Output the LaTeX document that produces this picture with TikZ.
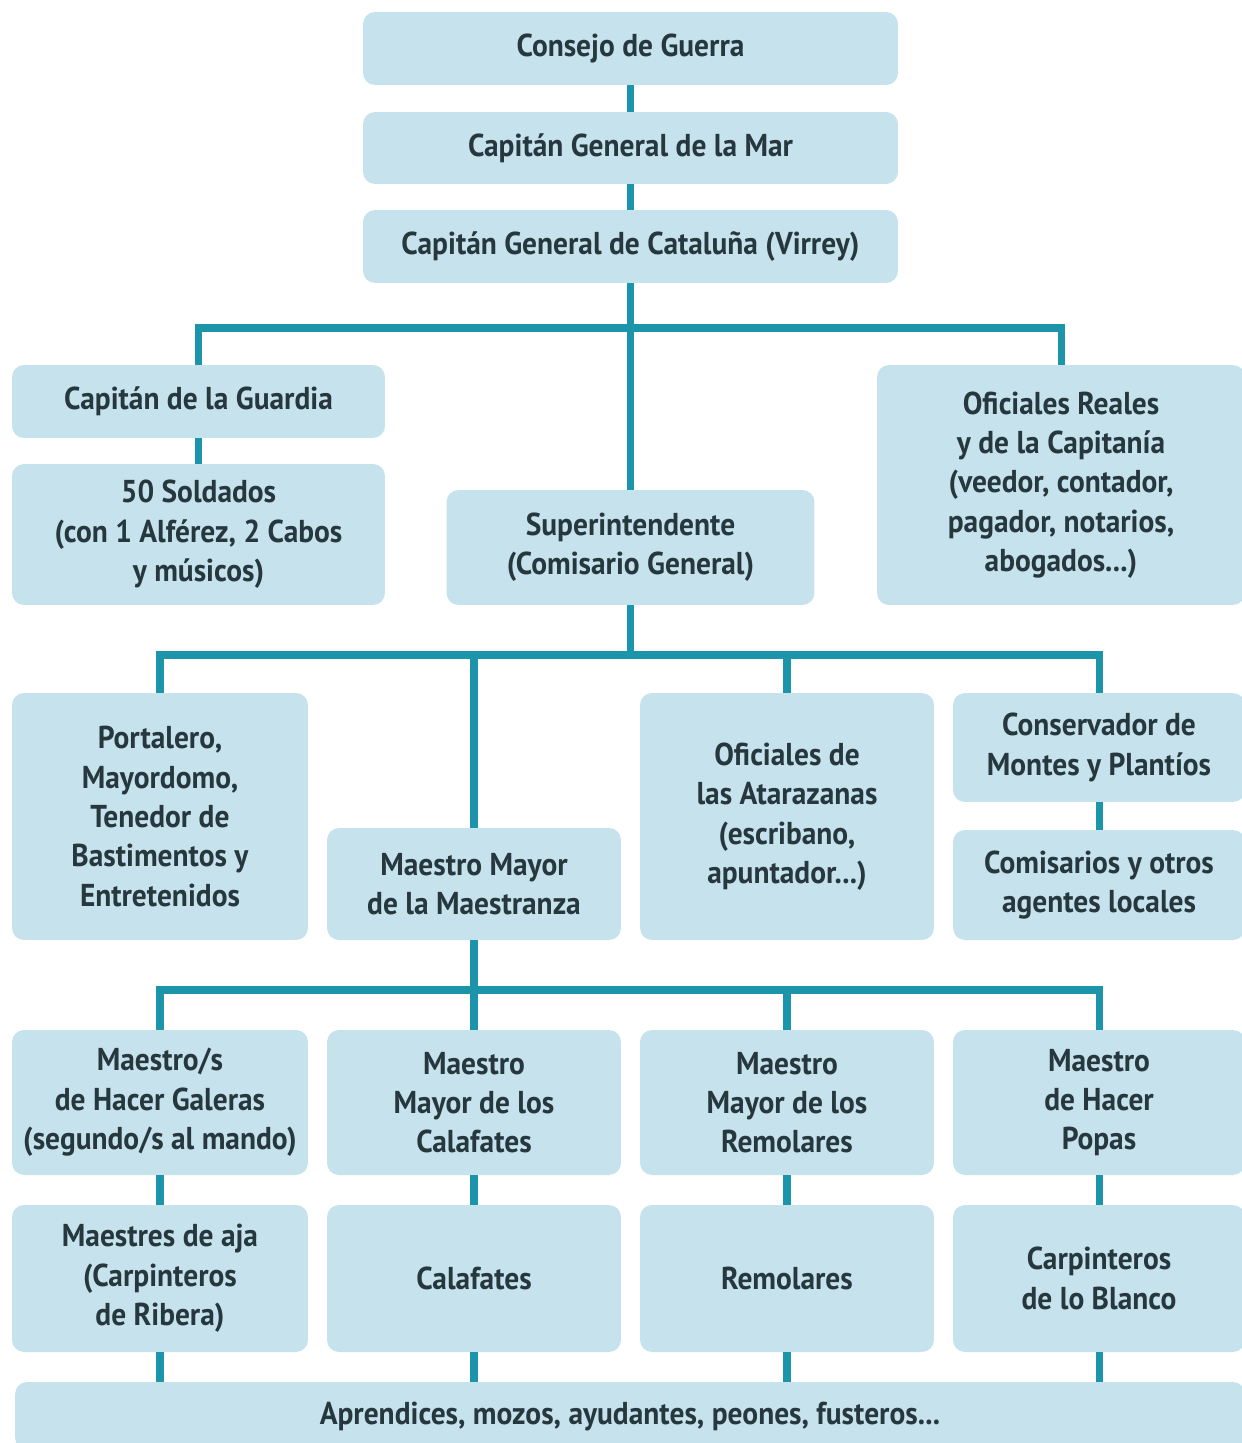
\documentclass[tikz,border=0pt]{standalone}
\usepackage{fontspec}
\setmainfont{PT Sans}[FakeStretch=0.93]
\usepackage{xcolor}
\usetikzlibrary{positioning}
\definecolor{cajafondo}{HTML}{C6E2EC}
\definecolor{lineaazul}{HTML}{1C95AA}
\definecolor{textooscuro}{HTML}{26373E}

\begin{document}
\begin{tikzpicture}[x=0.02cm, y=-0.02cm,
  box/.style={fill=cajafondo, rounded corners=0.24cm, align=center, inner sep=0pt,
    text=textooscuro, font=\fontsize{18}{22.4}\selectfont\bfseries},
  link/.style={draw=lineaazul, line width=4pt}]
\useasboundingbox (0,0) rectangle (1241,1443);
% cadena de mando
\node[box, minimum width=10.7cm, minimum height=1.46cm] (consejo) at (630.5,48.5) {Consejo de Guerra};
\node[box, minimum width=10.7cm, minimum height=1.44cm] (mar) at (630.5,148) {Capitán General de la Mar};
\node[box, minimum width=10.7cm, minimum height=1.46cm] (virrey) at (630.5,246.5) {Capitán General de Cataluña (Virrey)};
\node[box, minimum width=7.46cm, minimum height=1.46cm] (guardia) at (198.5,401.5) {Capitán de la Guardia};
\node[box, minimum width=7.46cm, minimum height=2.82cm] (soldados) at (198.5,534.5) {50 Soldados\\(con 1 Alférez, 2 Cabos\\y músicos)};
\node[box, minimum width=7.36cm, minimum height=4.8cm] (oficiales) at (1061,485) {Oficiales Reales\\y de la Capitanía\\(veedor, contador,\\pagador, notarios,\\abogados...)};
\node[box, minimum width=7.36cm, minimum height=2.3cm] (super) at (630.5,547.5) {Superintendente\\(Comisario General)};
% atarazanas
\node[box, minimum width=5.92cm, minimum height=4.94cm] (portalero) at (160,816.5) {Portalero,\\Mayordomo,\\Tenedor de\\Bastimentos y\\Entretenidos};
\node[box, minimum width=5.88cm, minimum height=2.24cm] (maestranza) at (474,884) {Maestro Mayor\\de la Maestranza};
\node[box, minimum width=5.88cm, minimum height=4.94cm] (atarazanas) at (787,816.5) {Oficiales de\\las Atarazanas\\(escribano,\\apuntador...)};
\node[box, minimum width=5.84cm, minimum height=2.18cm] (conservador) at (1099,747.5) {Conservador de\\Montes y Plantíos};
\node[box, minimum width=5.84cm, minimum height=2.2cm] (comisarios) at (1099,885) {Comisarios y otros\\agentes locales};
% maestros
\node[box, minimum width=5.92cm, minimum height=2.9cm] (galeras) at (160,1102.5) {Maestro/s\\de Hacer Galeras\\(segundo/s al mando)};
\node[box, minimum width=5.88cm, minimum height=2.9cm] (mcalafates) at (474,1102.5) {Maestro\\Mayor de los\\Calafates};
\node[box, minimum width=5.88cm, minimum height=2.9cm] (mremolares) at (787,1102.5) {Maestro\\Mayor de los\\Remolares};
\node[box, minimum width=5.84cm, minimum height=2.9cm] (popas) at (1099,1102.5) {Maestro\\de Hacer\\Popas};
\node[box, minimum width=5.92cm, minimum height=2.94cm] (aja) at (160,1278.5) {Maestres de aja\\(Carpinteros\\de Ribera)};
\node[box, minimum width=5.88cm, minimum height=2.94cm] (calafates) at (474,1278.5) {Calafates};
\node[box, minimum width=5.88cm, minimum height=2.94cm] (remolares) at (787,1278.5) {Remolares};
\node[box, minimum width=5.84cm, minimum height=2.94cm] (blanco) at (1099,1278.5) {Carpinteros\\de lo Blanco};
\node[box, minimum width=24.6cm, minimum height=1.36cm] (aprendices) at (630,1416) {Aprendices, mozos, ayudantes, peones, fusteros...};
% conexiones
\coordinate (barra1) at (630.5,328);
\coordinate (barra2) at (630.5,655);
\coordinate (barra3) at (474,990);
\draw[link] (consejo) -- (mar);
\draw[link] (mar) -- (virrey);
\draw[link] (virrey) -- (super);
\draw[link] (guardia.north) -- (guardia.north |- barra1) -- (oficiales.north |- barra1) -- (oficiales.north);
\draw[link] (guardia) -- (soldados);
\draw[link] (super.south) -- (barra2);
\draw[link] (portalero.north) -- (portalero.north |- barra2) -- (conservador.north |- barra2) -- (conservador.north);
\draw[link] (maestranza.north) -- (maestranza.north |- barra2);
\draw[link] (atarazanas.north) -- (atarazanas.north |- barra2);
\draw[link] (conservador) -- (comisarios);
\draw[link] (maestranza.south) -- (barra3);
\draw[link] (galeras.north) -- (galeras.north |- barra3) -- (popas.north |- barra3) -- (popas.north);
\draw[link] (mcalafates.north) -- (mcalafates.north |- barra3);
\draw[link] (mremolares.north) -- (mremolares.north |- barra3);
\foreach \a/\b in {galeras/aja, mcalafates/calafates, mremolares/remolares, popas/blanco}
  \draw[link] (\a) -- (\b);
\foreach \b in {aja, calafates, remolares, blanco}
  \draw[link] (\b.south) -- (\b.south |- aprendices.north);
\end{tikzpicture}
\end{document}
